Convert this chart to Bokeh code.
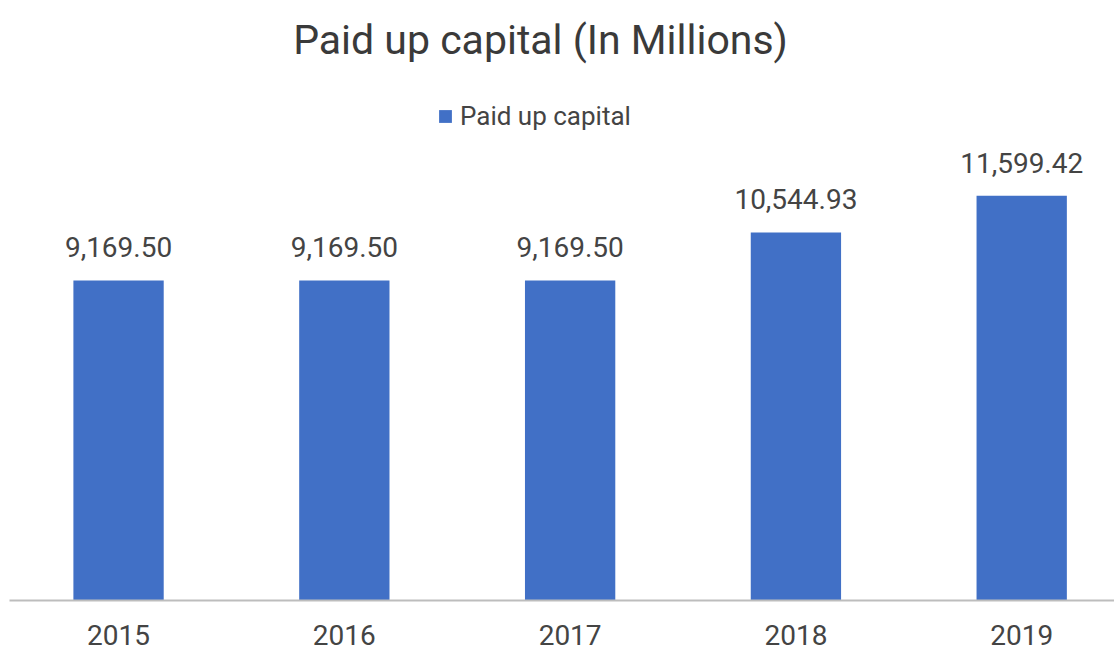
from bokeh.plotting import figure
from bokeh.models import (ColumnDataSource, Range1d, FixedTicker, LabelSet, Label,
                          Legend, LegendItem)
from bokeh.core.properties import value
from bokeh.embed import file_html
from bokeh.resources import INLINE

# Data
years = ["2015", "2016", "2017", "2018", "2019"]
paid_up_capital = [9169.50, 9169.50, 9169.50, 10544.93, 11599.42]

positions = list(range(len(years)))
labels = [f"{v:,.2f}" for v in paid_up_capital]

source = ColumnDataSource(dict(x=positions, top=paid_up_capital, label=labels))

BAR_COLOR = "#4170C6"
TEXT_COLOR = "#444444"
FONT = "Roboto"

p = figure(width=1114, height=653, output_backend="svg", toolbar_location=None,
           x_range=Range1d(-0.483, 4.411), y_range=Range1d(0, 17190),
           min_border_left=9, min_border_right=0, min_border_top=0,
           min_border_bottom=53)
p.outline_line_color = None
p.grid.visible = False
p.yaxis.visible = False
p.background_fill_color = "white"
p.border_fill_color = "white"

bars = p.vbar(x="x", top="top", width=0.4, source=source,
              fill_color=BAR_COLOR, line_color=None)

# Value labels above bars
p.add_layout(LabelSet(x="x", y="top", text="label", source=source,
                      y_offset=23, text_align="center", text_baseline="alphabetic",
                      text_font=value(FONT), text_font_size=value("28px"),
                      text_color=value(TEXT_COLOR)))

# Category axis
xa = p.xaxis[0]
xa.ticker = FixedTicker(ticks=positions)
xa.major_label_overrides = {i: y for i, y in zip(positions, years)}
xa.major_label_text_font = FONT
xa.major_label_text_font_size = "28px"
xa.major_label_text_color = TEXT_COLOR
xa.major_label_standoff = 18
xa.major_tick_line_color = None
xa.minor_tick_line_color = None
xa.axis_line_color = "#bdbdbd"
xa.axis_line_width = 2

# Title
p.add_layout(Label(x=531, y=561, x_units="screen", y_units="screen",
                   text="Paid up capital (In Millions)", text_align="center",
                   text_baseline="alphabetic", text_font=FONT,
                   text_font_size="41px", text_color="#3a3a3a"))

# Legend
legend = Legend(items=[LegendItem(label="Paid up capital", renderers=[bars])],
                location=(428, 469), orientation="horizontal",
                glyph_width=16, glyph_height=16, label_standoff=7,
                label_text_font=FONT, label_text_font_size="26px",
                label_text_color=TEXT_COLOR, padding=0, margin=0, spacing=0,
                border_line_alpha=0, background_fill_alpha=0)
p.add_layout(legend)

open("out.html", "w").write(file_html(p, INLINE))
